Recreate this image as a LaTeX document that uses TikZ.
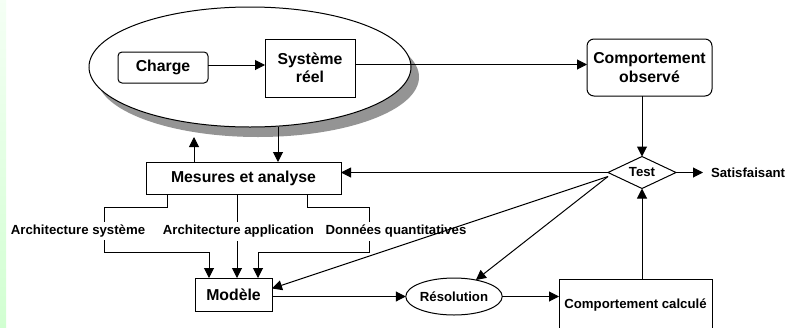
\documentclass[tikz,border=0pt]{standalone}
\usepackage{fontspec}
\setmainfont{Liberation Sans}
\usetikzlibrary{shapes.geometric,arrows.meta,shadows}
\newcommand\bigtxt{\fontsize{15.8}{18.5}\selectfont\bfseries}
\newcommand\smalltxt{\fontsize{13.2}{15}\selectfont\bfseries}

\begin{document}
\begin{tikzpicture}[x=1pt,y=-1pt,
  every node/.style={inner sep=0pt,outer sep=0pt},
  line/.style={line width=1pt},
  arr/.style={line,-{Triangle[length=10pt,width=10pt]}},
  box/.style={draw,line width=1pt,fill=white,font=\bigtxt,align=center},
  rbox/.style={box,rounded corners=5pt},
  lab/.style={font=\smalltxt,fill=white,inner xsep=2pt,inner ysep=3pt},
]
\clip (0,0) rectangle (787,327);
\fill[white] (0,0) rectangle (787,327);
% pale green band along the left edge
\shade[top color=green!4,bottom color=green!18] (0,0) rectangle (6,327);

% environment of the real system
\node[draw,ellipse,line width=1pt,fill=white,minimum width=322pt,minimum height=120pt,
      drop shadow={shadow xshift=8pt,shadow yshift=-10pt,fill=black!42,opacity=1}] (env) at (250,67) {};

\node[rbox,rounded corners=4pt,minimum width=90pt,minimum height=31pt] (charge) at (163,67.5) {Charge};
\node[box,minimum width=90pt,minimum height=58pt] (sys) at (310,68) {Système\\réel};
\node[rbox,rounded corners=7pt,minimum width=125pt,minimum height=57pt] (obs) at (649.5,67.5) {Comportement\\observé};
\node[draw,diamond,line width=1pt,aspect=2,fill=white,minimum width=68pt,minimum height=32pt,font=\smalltxt] (test) at (642,172.5) {Test};
\node[font=\smalltxt,anchor=west] (sat) at (711,172.5) {Satisfaisant};
\node[box,minimum width=195pt,minimum height=32pt] (mes) at (243.5,178) {Mesures et analyse};
\node[box,minimum width=77pt,minimum height=33pt] (mod) at (233.5,294.5) {Modèle};
\node[draw,ellipse,line width=1pt,fill=white,minimum width=82pt,minimum height=37pt,font=\smalltxt] (res) at (454,296.5) {Résolution};
\node[box,font=\smalltxt,minimum width=153pt,minimum height=52pt] (calc) at (635.5,305) {Comportement calculé};

\coordinate (envup) at (194,137);
\coordinate (envdown) at (278,127);
\coordinate (tw) at ([yshift=-4pt]test.west);

% top row
\draw[arr] (charge.east |- 0,65) -- (sys.west |- 0,65);
\draw[arr] (sys.east |- 0,64.5) -- (obs.west |- 0,64.5);
\draw[arr] (test.north |- obs.south) -- (test.north);
\draw[arr] (test.east) -- ([xshift=-8pt]sat.west);
\draw[arr] (test.west) -- (test.west -| mes.east);

% exchanges between the measures and the environment
\draw[arr] (mes.north -| envup) -- (envup);
\draw[arr] (envdown) -- (mes.north -| envdown);

% the three kinds of data feeding the model
\draw[arr] (mes.south -| 167,0) |- (104,207) -- (104,252) -| (mod.north -| 209,0);
\draw[arr] (mes.south -| 237,0) -- (mod.north -| 237,0);
\draw[arr] (mes.south -| 307,0) |- (369,207) -- (369,252) -| (mod.north -| 258,0);
\node[lab] (l1) at (78,231) {Architecture système};
\node[lab] (l2) at (238.5,231.5) {Architecture application};
\node[lab] (l3) at (396,231.5) {Données quantitatives};

% feedback from the test
\draw[arr] (tw) -- ([yshift=6pt]mod.east);
\draw[arr] (tw) -- (res.37);

% resolution chain
\draw[arr] (res.west -| mod.east) -- (res.west);
\draw[arr] (res.east) -- (res.east -| calc.west);
\draw[arr] (test.south |- calc.north) -- (test.south);
\end{tikzpicture}
\end{document}
